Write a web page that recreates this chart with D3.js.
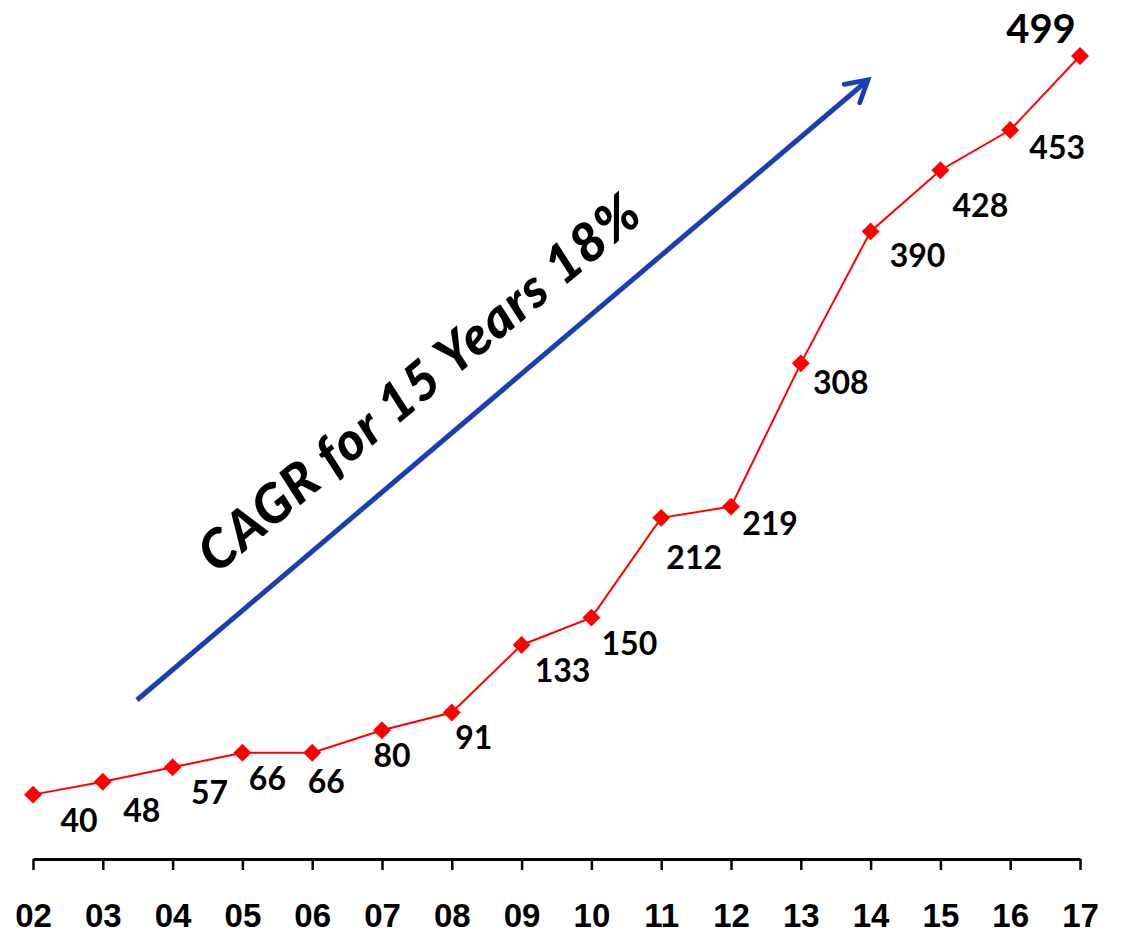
<!DOCTYPE html>
<html>
<head>
<meta charset="utf-8">
<script src="https://cdn.jsdelivr.net/npm/d3@7"></script>
<style>
  html, body { margin: 0; padding: 0; background: #fff; }
  svg { display: block; }
</style>
</head>
<body>
<svg id="chart" width="1121" height="934"></svg>
<script>
// Yearly series, 2002–2017
const years = ["02","03","04","05","06","07","08","09","10","11","12","13","14","15","16","17"];
const values = [40, 48, 57, 66, 66, 80, 91, 133, 150, 212, 219, 308, 390, 428, 453, 499];
const annotation = "CAGR for 15 Years 18%";

// Hand placement of each value label relative to its point [dx, dy]
const labelNudge = [
  [46, 37], [39, 40], [37, 37], [25, 37], [14, 40], [10, 37], [22, 36], [41, 37],
  [38, 37], [33, 51], [39, 28], [40, 31], [47, 36], [40, 47], [47, 29], [-39, -13]
];

const svg = d3.select("#chart");

const x = d3.scalePoint().domain(years).range([33, 1080]);
const y = d3.scaleLinear().domain([0, 499]).range([859, 56]);

// Bottom axis
const axisG = svg.append("g")
  .attr("transform", `translate(0,${y(0)})`)
  .call(d3.axisBottom(x).tickSize(11).tickSizeOuter(0).tickPadding(34));
axisG.select(".domain").attr("stroke", "#000").attr("stroke-width", 3);
axisG.selectAll(".tick line").attr("stroke", "#000").attr("stroke-width", 2.5);
axisG.selectAll(".tick text")
  .attr("fill", "#000")
  .style("font-family", "'Liberation Sans', Arial, sans-serif")
  .style("font-weight", "bold")
  .style("font-size", "33px");

// Growth arrow
svg.append("defs").append("marker")
  .attr("id", "arrowHead")
  .attr("viewBox", "0 0 10 10")
  .attr("refX", 8).attr("refY", 5)
  .attr("markerWidth", 6).attr("markerHeight", 6)
  .attr("markerUnits", "strokeWidth")
  .attr("orient", "auto")
  .append("path")
  .attr("d", "M1,1 L8,5 L1,9")
  .attr("fill", "none")
  .attr("stroke", "#1a3fb5")
  .attr("stroke-width", 1.6)
  .attr("stroke-linecap", "round");

svg.append("line")
  .attr("x1", 137).attr("y1", 700)
  .attr("x2", 868).attr("y2", 80)
  .attr("stroke", "#1a3fb5")
  .attr("stroke-width", 5)
  .attr("marker-end", "url(#arrowHead)");

// Rotated annotation text
svg.append("text")
  .attr("transform", "translate(418,381) rotate(-39.7)")
  .attr("text-anchor", "middle")
  .attr("dominant-baseline", "central")
  .style("font-family", "Lato, 'Open Sans', sans-serif")
  .style("font-weight", "900")
  .style("font-style", "italic")
  .style("font-size", "53px")
  .style("letter-spacing", "1.5px")
  .attr("fill", "#000")
  .text(annotation);

// Series line
const line = d3.line().x((d, i) => x(years[i])).y(d => y(d));
svg.append("path")
  .datum(values)
  .attr("d", line)
  .attr("fill", "none")
  .attr("stroke", "#ff0000")
  .attr("stroke-width", 2);

// Diamond markers
svg.selectAll(".pt")
  .data(values)
  .join("path")
  .attr("class", "pt")
  .attr("d", d3.symbol(d3.symbolSquare, 160))
  .attr("transform", (d, i) => `translate(${x(years[i])},${y(d)}) rotate(45)`)
  .attr("fill", "#ff0000");

// Value labels
svg.selectAll(".lbl")
  .data(values)
  .join("text")
  .attr("class", "lbl")
  .attr("x", (d, i) => x(years[i]) + labelNudge[i][0])
  .attr("y", (d, i) => y(d) + labelNudge[i][1])
  .attr("text-anchor", "middle")
  .style("font-family", "Lato, 'Open Sans', sans-serif")
  .style("font-weight", "bold")
  .style("font-size", (d, i) => i === values.length - 1 ? "40px" : "32px")
  .attr("fill", "#000")
  .text(d => d);
</script>
</body>
</html>
